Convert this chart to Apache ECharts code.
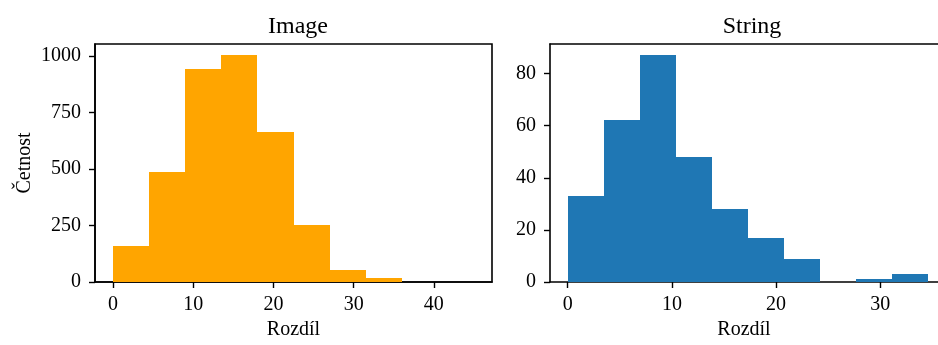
<!DOCTYPE html>
<html>
<head>
<meta charset="utf-8">
<script src="https://cdn.jsdelivr.net/npm/echarts@6/dist/echarts.min.js"></script>
<style>
  html, body { margin: 0; padding: 0; background: #fff; }
  #chart { width: 938px; height: 345px; }
</style>
</head>
<body>
<div id="chart"></div>
<script>
// Histogram "Image" (orange)
const imageBinEdges = [0, 4.5, 9, 13.5, 18, 22.5, 27, 31.5, 36, 40.5, 45];
const imageCounts = [160, 488, 942, 1003, 662, 252, 55, 16, 0, 1];
// Histogram "String" (blue)
const stringBinEdges = [0, 3.46, 6.92, 10.38, 13.84, 17.3, 20.76, 24.22, 27.68, 31.14, 34.6];
const stringCounts = [33, 62, 87, 48, 28, 17, 9, 0, 1, 3];

const imageXTicks = [0, 10, 20, 30, 40];
const imageYTicks = [0, 250, 500, 750, 1000];
const stringXTicks = [0, 10, 20, 30];
const stringYTicks = [0, 20, 40, 60, 80];

const titles = ['Image', 'String'];
const xLabel = 'Rozdíl';
const yLabel = 'Četnost';

function toBins(edges, counts) {
  return counts.map((c, i) => [edges[i], edges[i + 1], c]);
}

const FONT = 'Liberation Serif';
const ink = '#000';

function renderBar(params, api) {
  const p0 = api.coord([api.value(0), 0]);
  const p1 = api.coord([api.value(1), api.value(2)]);
  const x0 = Math.round(p0[0]), x1 = Math.round(p1[0]);
  const yb = Math.round(p0[1]), yt = Math.round(p1[1]);
  if (yb - yt <= 0) return null;
  return { type: 'rect', shape: { x: x0, y: yt, width: x1 - x0, height: yb - yt }, style: api.style() };
}

const plainNum = v => String(v);

function xAxis(idx, min, max, ticks) {
  return {
    type: 'value', gridIndex: idx, min: min, max: max,
    name: xLabel, nameLocation: 'middle', nameGap: 38,
    nameTextStyle: { fontFamily: FONT, fontSize: 20, color: ink },
    splitLine: { show: false },
    axisLine: { show: true, onZero: false, lineStyle: { color: ink, width: 1.6 } },
    axisTick: { show: true, length: 6, lineStyle: { color: ink, width: 1.4 }, customValues: ticks },
    axisLabel: { fontFamily: FONT, fontSize: 20, color: ink, margin: 13, customValues: ticks, formatter: plainNum }
  };
}
function topLine(idx, min, max) {
  return {
    type: 'value', gridIndex: idx, min: min, max: max, position: 'top',
    splitLine: { show: false },
    axisLine: { show: true, onZero: false, lineStyle: { color: ink, width: 1.6 } },
    axisTick: { show: false }, axisLabel: { show: false }
  };
}
function yAxis(idx, min, max, ticks, withName) {
  return {
    type: 'value', gridIndex: idx, min: min, max: max,
    name: withName ? yLabel : '', nameLocation: 'middle', nameGap: 60,
    nameTextStyle: { fontFamily: FONT, fontSize: 20, color: ink },
    splitLine: { show: false },
    axisLine: { show: true, onZero: false, lineStyle: { color: ink, width: 1.6 } },
    axisTick: { show: true, length: 6, lineStyle: { color: ink, width: 1.4 }, customValues: ticks },
    axisLabel: { fontFamily: FONT, fontSize: 20, color: ink, margin: 14, customValues: ticks, formatter: plainNum }
  };
}

const chart = echarts.init(document.getElementById('chart'), null, { renderer: 'canvas' });
chart.setOption({
  animation: false,
  backgroundColor: '#fff',
  title: [
    { text: titles[0], left: 293, top: 10, textAlign: 'center',
      textStyle: { fontFamily: FONT, fontSize: 24, fontWeight: 'normal', color: ink } },
    { text: titles[1], left: 747, top: 10, textAlign: 'center',
      textStyle: { fontFamily: FONT, fontSize: 24, fontWeight: 'normal', color: ink } }
  ],
  grid: [
    { left: 95, top: 44, width: 397, height: 242, show: true, borderColor: ink, borderWidth: 1.6, backgroundColor: 'transparent' },
    { left: 550, top: 44, right: 0, height: 242, show: false }
  ],
  xAxis: [
    xAxis(0, -2.25, 47.25, imageXTicks),
    xAxis(1, -1.70, 35.54, stringXTicks),
    topLine(1, -1.70, 35.54)
  ],
  yAxis: [
    yAxis(0, 0, 1053, imageYTicks, true),
    yAxis(1, 0, 91.35, stringYTicks, false)
  ],
  series: [
    { type: 'custom', name: titles[0], xAxisIndex: 0, yAxisIndex: 0,
      renderItem: renderBar, itemStyle: { color: '#FFA500' },
      encode: { x: [0, 1], y: 2 }, data: toBins(imageBinEdges, imageCounts), z: 1 },
    { type: 'custom', name: titles[1], xAxisIndex: 1, yAxisIndex: 1,
      renderItem: renderBar, itemStyle: { color: '#1f77b4' },
      encode: { x: [0, 1], y: 2 }, data: toBins(stringBinEdges, stringCounts), z: 1 }
  ]
});
</script>
</body>
</html>
